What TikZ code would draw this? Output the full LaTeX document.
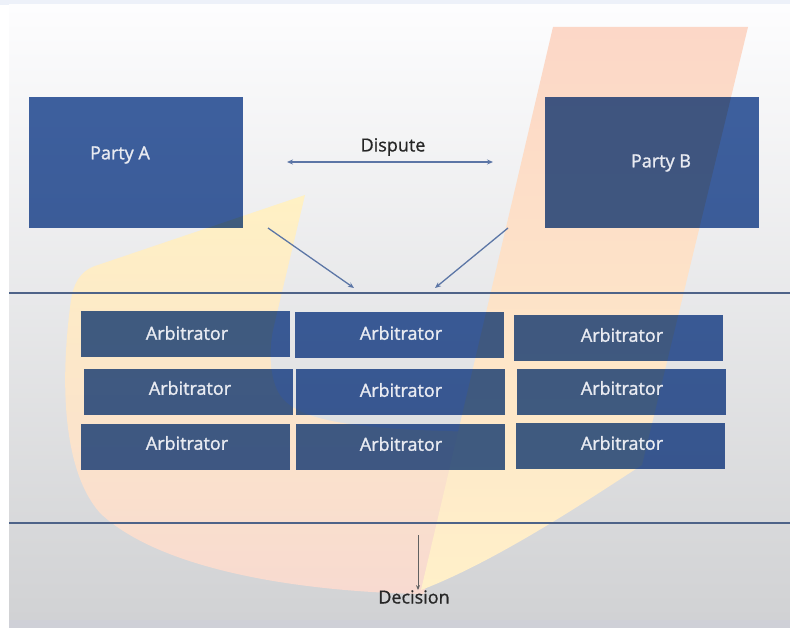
\documentclass[tikz,border=0pt]{standalone}
\usepackage{fontspec}
\setmainfont{Open Sans}
\newfontfamily\lblfont{Open Sans}[FakeBold=1.4]
\newfontfamily\dfont{Open Sans}[FakeBold=0.8]
\usetikzlibrary{arrows.meta}
\definecolor{topband}{RGB}{237,241,249}
\definecolor{panTop}{RGB}{253,253,254}
\definecolor{panBot}{RGB}{209,210,212}
\definecolor{botband}{RGB}{207,208,215}
\definecolor{boxblue}{RGB}{64,99,163}
\definecolor{lblwhite}{RGB}{232,234,241}
\definecolor{lineblue}{RGB}{78,99,136}
\definecolor{arrowblue}{RGB}{92,118,166}
\definecolor{darktext}{RGB}{38,38,38}
\definecolor{leftTop}{RGB}{255,241,196}
\definecolor{leftBot}{RGB}{248,218,208}
\definecolor{barTop}{RGB}{252,215,199}
\definecolor{barBot}{RGB}{255,240,201}
\begin{document}
\begin{tikzpicture}[x=1pt,y=-1pt,
  boxshape/.style={rectangle, fill=boxblue, inner sep=0pt, outer sep=0pt},
  arbbox/.style={boxshape, minimum width=209pt, minimum height=46pt},
  partybox/.style={boxshape, minimum width=214pt, minimum height=131pt},
  lbl/.style={text=lblwhite, inner sep=0pt, font=\lblfont\fontsize{18}{20}\selectfont},
  dlbl/.style={text=darktext, inner sep=0pt, font=\dfont\fontsize{18}{20}\selectfont},
  sepline/.style={draw=lineblue, line width=1.8pt},
  conn/.style={draw=arrowblue, line width=1.3pt, -{Stealth[length=6pt,width=5pt]}},
  dconn/.style={draw=arrowblue, line width=1.3pt, {Stealth[length=6pt,width=5pt]}-{Stealth[length=6pt,width=5pt]}},
  decconn/.style={draw=black!62, line width=1pt, -{Stealth[length=5pt,width=4pt]}}]
\useasboundingbox (0,0) rectangle (790,628);
% background
\fill[topband] (0,0) rectangle (790,628);
\fill[white] (0,5) rectangle (9,628);
\fill[botband] (9,618) rectangle (790,628);
\shade[top color=panTop, bottom color=panBot] (9,5) rectangle (790,619);
% logo watermark
\shade[top color=leftTop, bottom color=leftBot]
  (305,195) -- (95,266) .. controls (80,271) and (73,285) .. (71,300)
  .. controls (60,380) and (62,470) .. (100,513)
  .. controls (160,570) and (300,592) .. (424,594)
  -- (470,432) -- (447,431) .. controls (330,428) and (290,415) .. (278,392)
  .. controls (268,372) and (270,345) .. (273,330) -- cycle;
\shade[top color=barTop, bottom color=barBot]
  (553,27) -- (748,27) -- (642,465) .. controls (600,492) and (500,560) .. (421,590) -- cycle;
% boxes, multiplied over the watermark
\begin{scope}[blend mode=multiply]
\node[partybox] (pa) at (136,162.5) {};
\node[partybox] (pb) at (652,163) {};
\node[arbbox] (a11) at (185,334.5) {};
\node[arbbox] (a21) at (188,391.5) {};
\node[arbbox] (a31) at (185,446.5) {};
\node[arbbox] (a12) at (399.5,335.5) {};
\node[arbbox] (a22) at (400,392) {};
\node[arbbox] (a32) at (400,447) {};
\node[arbbox] (a13) at (618,338) {};
\node[arbbox] (a23) at (621,392) {};
\node[arbbox] (a33) at (620,446) {};
\end{scope}
% labels
\node[lbl] (pat) at (120,155) {Party A};
\node[lbl] (pbt) at (661,163) {Party B};
\foreach \n/\x/\y in {a11/187/333, a21/190/388, a31/187/443,
                      a12/401/333, a22/401/390, a32/401/444,
                      a13/622/335, a23/622/388, a33/622/443}
  \node[lbl] (\n t) at (\x,\y) {Arbitrator};
% separator lines
\coordinate (l1a) at (9,293);  \coordinate (l1b) at (790,293);
\coordinate (l2a) at (9,523);  \coordinate (l2b) at (790,523);
\draw[sepline] (l1a) -- (l1b);
\draw[sepline] (l2a) -- (l2b);
% dispute
\node[dlbl] (disp) at (393,147) {Dispute};
\coordinate (dl) at (287,162); \coordinate (dr) at (493,162);
\draw[dconn] (dl) -- (dr);
% arrows toward the arbitrators
\coordinate (sa) at (268,228); \coordinate (ea) at (354,288);
\coordinate (sb) at (508,228); \coordinate (eb) at (435,288);
\draw[conn] (sa) -- (ea);
\draw[conn] (sb) -- (eb);
% decision
\node[dlbl] (dec) at (414,597) {Decision};
\coordinate (ds) at (418,535);
\draw[decconn] (ds) -- (ds |- dec.north);
\end{tikzpicture}
\end{document}
